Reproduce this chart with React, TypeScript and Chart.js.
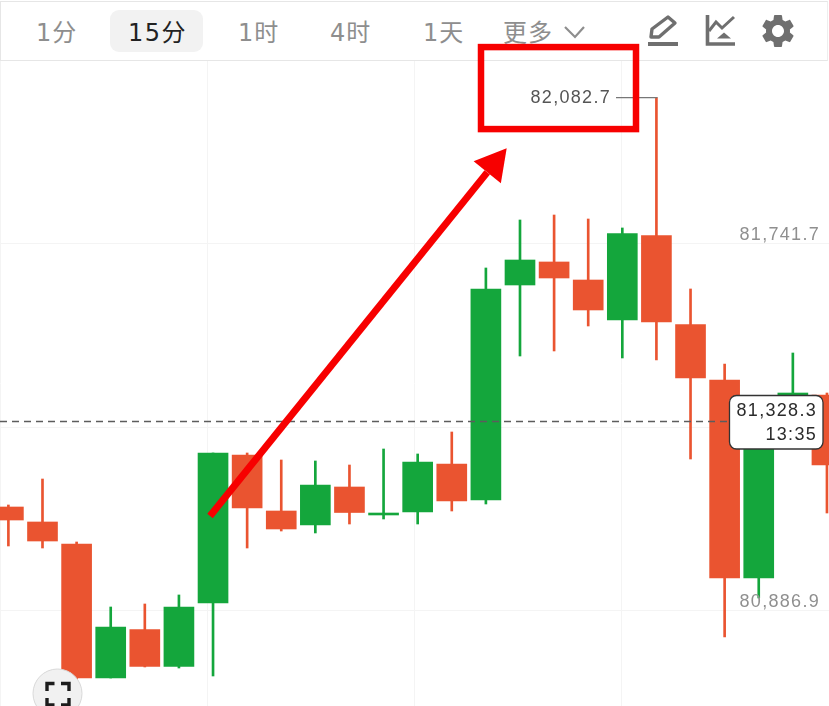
import React, { useEffect, useRef } from "react";
import { Chart, registerables } from "chart.js";

Chart.register(...registerables);

// Candles, oldest to newest (the leftmost and rightmost are partly cut by the frame)
const opens = [81129.1, 81094.2, 81042.9, 80730.8, 80843.8, 80757.6, 80905.5, 81250.2, 81119.8, 81087.2, 81175.7, 81110.5, 81117.5, 81229.3, 81145.4, 81646.2, 81699.8, 81657.8, 81564.7, 81761.5, 81554.2, 81424.9, 80963.7, 81388.8, 81390.0];
const closes = [81098.8, 81049.9, 80730.8, 80849.6, 80757.6, 80896.2, 81254.9, 81126.8, 81077.9, 81180.4, 81116.3, 81115.1, 81233.9, 81143.1, 81636.9, 81704.4, 81662.5, 81588.0, 81766.1, 81560.0, 81429.6, 80963.7, 81331.8, 81394.6, 81226.9];
const highs = [81133.8, 81194.3, 81047.6, 80896.2, 80903.2, 80924.2, 81254.9, 81254.9, 81238.6, 81236.3, 81226.9, 81264.2, 81252.6, 81303.8, 81685.8, 81797.6, 81809.2, 81799.9, 81779.0, 82082.7, 81636.9, 81462.2, 81331.8, 81487.8, 81394.6];
const lows = [81038.3, 81033.6, 80661.0, 80730.8, 80756.5, 80754.1, 80735.5, 81033.6, 81073.2, 81068.6, 81089.5, 81101.2, 81089.5, 81119.8, 81136.1, 81480.8, 81492.5, 81550.7, 81476.2, 81471.5, 81240.9, 80826.3, 80917.2, 81387.7, 81115.1];

const priceTicks = [80886.9, 81314.3, 81741.7];
const timeGridCandles = [-0.246, 5.824, 11.91, 17.99];
const maxPrice = 82082.7;
const maxIndex = 19;
const lastPrice = 81328.3;
const countdown = "13:35";

const tabs = ["1分", "15分", "1时", "4时", "1天", "更多"];
const tabLefts = [36, 128, 238, 330, 423, 503];

const UP = "#14a63c";
const DOWN = "#ea5430";
const LABEL_FONT = '18px "Liberation Sans", Arial, sans-serif';

const fmt = (v: number) =>
  v.toLocaleString("en-US", { minimumFractionDigits: 1, maximumFractionDigits: 1 });

const overlay = {
  id: "overlay",
  beforeDraw(chart: any) {
    chart.ctx.letterSpacing = "1.3px";
  },
  afterDraw(chart: any) {
    const { ctx, scales } = chart;
    const X = (v: number) => scales.x.getPixelForValue(v);
    const Y = (v: number) => scales.y.getPixelForValue(v);
    ctx.save();

    // last price dashed line
    const ly = Y(lastPrice);
    ctx.strokeStyle = "#5c5c5c";
    ctx.lineWidth = 1.5;
    ctx.setLineDash([7, 5]);
    ctx.beginPath();
    ctx.moveTo(0, ly);
    ctx.lineTo(730, ly);
    ctx.stroke();
    ctx.setLineDash([]);

    // last price callout
    ctx.beginPath();
    ctx.roundRect(729.5, ly - 26, 93.5, 53.5, 7);
    ctx.fillStyle = "#fff";
    ctx.fill();
    ctx.strokeStyle = "#333";
    ctx.lineWidth = 1.3;
    ctx.stroke();
    ctx.fillStyle = "#2b2b2b";
    ctx.font = LABEL_FONT;
    ctx.textAlign = "right";
    ctx.textBaseline = "middle";
    ctx.fillText(fmt(lastPrice), 817, ly - 10);
    ctx.fillText(countdown, 817, ly + 14);

    // highest price marker
    const hy = Y(maxPrice);
    const hx = X(maxIndex);
    ctx.strokeStyle = "#777";
    ctx.lineWidth = 1.4;
    ctx.beginPath();
    ctx.moveTo(616, hy);
    ctx.lineTo(hx + 1, hy);
    ctx.stroke();
    ctx.fillStyle = "#555";
    ctx.fillText(fmt(maxPrice), 611, hy + 0.5);

    // red box around the highest price
    ctx.strokeStyle = "#f70000";
    ctx.lineWidth = 6.5;
    ctx.strokeRect(481, hy - 50.5, 155, 82);

    // red arrow
    const x0 = X(5.912), y0 = Y(81108.2);
    const x1 = X(14.61), y1 = Y(81964.8);
    const len = Math.hypot(x1 - x0, y1 - y0);
    const ux = (x1 - x0) / len, uy = (y1 - y0) / len;
    const bx = x1 - ux * 31, by = y1 - uy * 31;
    ctx.strokeStyle = "#f70000";
    ctx.fillStyle = "#f70000";
    ctx.lineWidth = 7;
    ctx.beginPath();
    ctx.moveTo(x0, y0);
    ctx.lineTo(bx, by);
    ctx.stroke();
    ctx.beginPath();
    ctx.moveTo(x1, y1);
    ctx.lineTo(bx - uy * 17.5, by + ux * 17.5);
    ctx.lineTo(bx + uy * 17.5, by - ux * 17.5);
    ctx.closePath();
    ctx.fill();

    // full-screen button
    ctx.beginPath();
    ctx.arc(57.5, 693.5, 24.5, 0, Math.PI * 2);
    ctx.fillStyle = "#f1f1f1";
    ctx.fill();
    ctx.strokeStyle = "#d8d8d8";
    ctx.lineWidth = 1;
    ctx.stroke();
    ctx.strokeStyle = "#1c1c1c";
    ctx.lineWidth = 3.4;
    ctx.beginPath();
    ctx.moveTo(47, 691); ctx.lineTo(47, 683.5); ctx.lineTo(54.5, 683.5);
    ctx.moveTo(61, 683.5); ctx.lineTo(69, 683.5); ctx.lineTo(69, 691);
    ctx.moveTo(47, 698); ctx.lineTo(47, 705); ctx.lineTo(54.5, 705);
    ctx.moveTo(61, 705); ctx.lineTo(69, 705); ctx.lineTo(69, 698);
    ctx.stroke();
    ctx.restore();
  },
};

export default function App() {
  const ref = useRef<HTMLCanvasElement>(null);

  useEffect(() => {
    document.body.style.margin = "0";
    const colors = opens.map((o, i) => (closes[i] >= o ? UP : DOWN));
    const chart = new Chart(ref.current!, {
      type: "bar",
      data: {
        datasets: [
          {
            label: "wick",
            data: lows.map((l, i) => ({ x: i, y: [l, highs[i]] })) as any,
            backgroundColor: colors,
            barThickness: 2,
            grouped: false,
            order: 2,
          } as any,
          {
            label: "body",
            data: opens.map((o, i) => ({ x: i, y: [o, closes[i]] })) as any,
            backgroundColor: colors,
            barThickness: 30,
            grouped: false,
            order: 1,
          } as any,
        ],
      },
      options: {
        animation: false,
        responsive: false,
        layout: { padding: { top: 61, left: 0, right: 0, bottom: 0 } },
        plugins: { legend: { display: false }, tooltip: { enabled: false } },
        scales: {
          x: {
            type: "linear",
            min: -0.246,
            max: 24.06,
            offset: false,
            border: { display: false },
            grid: { color: "#f4f4f4", lineWidth: 1, drawTicks: false, offset: false },
            ticks: { display: false },
            afterBuildTicks: (axis: any) => {
              axis.ticks = timeGridCandles.map((value) => ({ value }));
            },
            afterFit: (axis: any) => {
              axis.height = 0;
            },
          },
          y: {
            position: "right",
            min: 80665.6,
            max: 82167.9,
            border: { display: false },
            grid: { color: "#f4f4f4", lineWidth: 1, drawTicks: false },
            afterBuildTicks: (axis: any) => {
              axis.ticks = priceTicks.map((value) => ({ value }));
            },
            afterFit: (axis: any) => {
              axis.width = 0;
              axis.paddingTop = 0;
              axis.paddingBottom = 0;
            },
            ticks: {
              mirror: true,
              z: 1,
              padding: -9,
              labelOffset: -9,
              color: "#8f8f8f",
              font: { family: '"Liberation Sans", Arial, sans-serif', size: 18 },
              autoSkip: false,
              callback: (v: any) => fmt(Number(v)),
            },
          },
        },
      },
      plugins: [overlay],
    } as any);
    return () => chart.destroy();
  }, []);

  return (
    <div style={{ position: "relative", width: 829, height: 706, overflow: "hidden", background: "#fff" }}>
      <div
        style={{
          position: "absolute",
          left: 0,
          top: 1,
          width: 826,
          height: 58,
          border: "1.5px solid #e6e6e6",
          borderRightColor: "#eeeeee",
        }}
      />
      <div
        style={{
          position: "absolute",
          left: 110,
          top: 10,
          width: 93,
          height: 42,
          borderRadius: 9,
          background: "#f2f2f2",
        }}
      />
      {tabs.map((t, i) => (
        <span
          key={t}
          style={{
            position: "absolute",
            left: tabLefts[i],
            top: 16,
            lineHeight: "34px",
            fontSize: 24,
            letterSpacing: i === 1 ? 1.5 : 1,
            fontFamily: '"DejaVu Sans", "Noto Sans CJK SC", sans-serif',
            color: i === 1 ? "#222" : "#8e8e8e",
            whiteSpace: "nowrap",
          }}
        >
          {t}
        </span>
      ))}
      <svg width={829} height={60} style={{ position: "absolute", left: 0, top: 0 }}>
        <polyline points="565,27 575,37 584,27" fill="none" stroke="#8e8e8e" strokeWidth={2.2} />
        {/* pencil */}
        <path d="M651,37 L652,29 L668,17 L675,23 L659,37 Z" fill="none" stroke="#6f6f6f" strokeWidth={3.4} strokeLinejoin="round" />
        <rect x={648} y={42} width={30} height={4} fill="#6f6f6f" />
        {/* indicators */}
        <path d="M707.5,15 V44 H735" fill="none" stroke="#6f6f6f" strokeWidth={3.6} />
        <polyline points="709,31 716,22 722,28 734,17" fill="none" stroke="#6f6f6f" strokeWidth={3} />
        <polygon points="717,38.5 731,38.5 724,32.5" fill="#6f6f6f" />
        {/* settings */}
        <svg x={758} y={11} width={40} height={40} viewBox="0 0 24 24">
          <path
            fill="#6f6f6f"
            d="M19.14 12.94c.04-.3.06-.61.06-.94 0-.32-.02-.64-.07-.94l2.03-1.58c.18-.14.23-.41.12-.61l-1.92-3.32c-.12-.22-.37-.29-.59-.22l-2.39.96c-.5-.38-1.03-.7-1.62-.94l-.36-2.54c-.04-.24-.24-.41-.48-.41h-3.84c-.24 0-.43.17-.47.41l-.36 2.54c-.59.24-1.13.57-1.62.94l-2.39-.96c-.22-.08-.47 0-.59.22L2.74 8.87c-.12.21-.08.47.12.61l2.03 1.58c-.05.3-.09.63-.09.94s.02.64.07.94l-2.03 1.58c-.18.14-.23.41-.12.61l1.92 3.32c.12.22.37.29.59.22l2.39-.96c.5.38 1.03.7 1.62.94l.36 2.54c.05.24.24.41.48.41h3.84c.24 0 .44-.17.47-.41l.36-2.54c.59-.24 1.13-.56 1.62-.94l2.39.96c.22.08.47 0 .59-.22l1.92-3.32c.12-.22.07-.47-.12-.61l-2.01-1.58zM12 15.6c-1.98 0-3.6-1.62-3.6-3.6s1.62-3.6 3.6-3.6 3.6 1.62 3.6 3.6-1.62 3.6-3.6 3.6z"
          />
        </svg>
      </svg>
      <canvas
        ref={ref}
        width={829}
        height={706}
        style={{ position: "absolute", left: 0, top: 0, width: 829, height: 706 }}
      />
    </div>
  );
}
